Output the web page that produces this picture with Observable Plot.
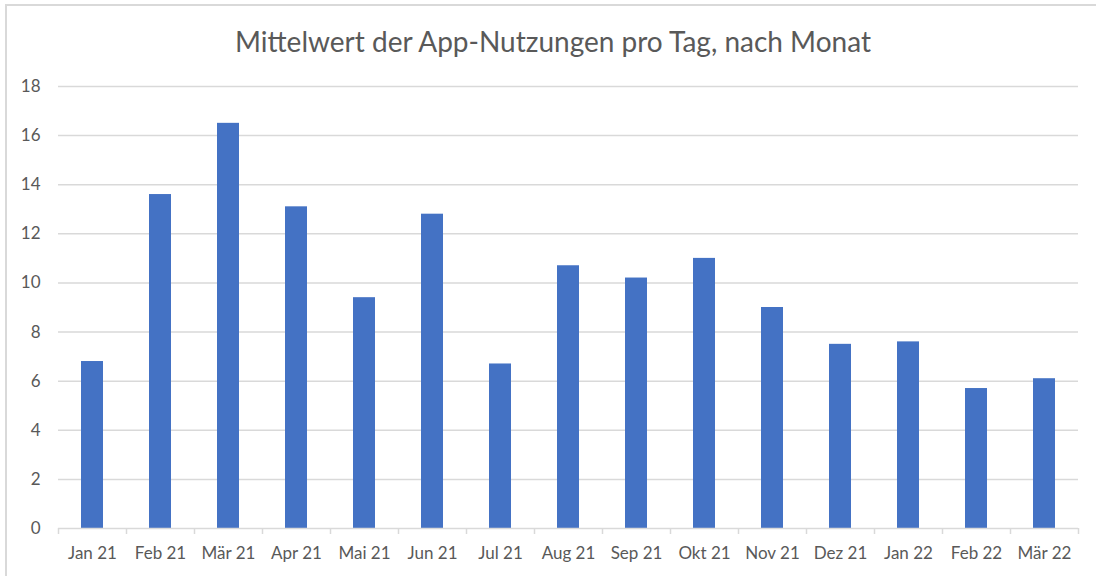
<!DOCTYPE html>
<html>
<head>
<meta charset="utf-8">
<script src="https://cdn.jsdelivr.net/npm/d3@7"></script>
<script src="https://cdn.jsdelivr.net/npm/@observablehq/plot@0.6"></script>
<style>
  html, body { margin: 0; padding: 0; background: #fff; }
  #wrap { position: relative; width: 1096px; height: 576px; overflow: hidden; font-family: Lato, "Open Sans", sans-serif; }
  #frame { position: absolute; left: 5px; top: 4px; width: 1200px; height: 700px; border-top: 2px solid #d9d9d9; border-left: 2px solid #d9d9d9; pointer-events: none; }
  #title { position: absolute; left: 0; top: 0; width: 1106px; height: 70px; line-height: 83px; text-align: center; font-size: 28px; color: #595959; }
  #chart { position: absolute; left: 0; top: 70px; }
</style>
</head>
<body>
<div id="wrap">
  <div id="frame"></div>
  <div id="title">Mittelwert der App-Nutzungen pro Tag, nach Monat</div>
  <div id="chart"></div>
</div>
<script>
const months = ["Jan 21","Feb 21","Mär 21","Apr 21","Mai 21","Jun 21","Jul 21","Aug 21","Sep 21","Okt 21","Nov 21","Dez 21","Jan 22","Feb 22","Mär 22"];
const values = [6.8, 13.6, 16.5, 13.1, 9.4, 12.8, 6.7, 10.7, 10.2, 11.0, 9.0, 7.5, 7.6, 5.7, 6.1];
const yTicks = [0, 2, 4, 6, 8, 10, 12, 14, 16, 18];

const data = months.map((m, i) => ({month: m, value: values[i]}));
const lastMonth = months[months.length - 1];

const plot = Plot.plot({
  width: 1096,
  height: 506,
  marginTop: 16,
  marginBottom: 48,
  marginLeft: 58,
  marginRight: 18,
  style: {fontFamily: "Lato, 'Open Sans', sans-serif", fontSize: "17px", color: "#595959", background: "transparent"},
  x: {domain: months, paddingInner: 0.68, paddingOuter: 0.34, label: null},
  y: {domain: [0, 18], ticks: yTicks, label: null},
  marks: [
    Plot.ruleY(yTicks.filter(t => t > 0), {stroke: "#d9d9d9", strokeWidth: 1.5}),
    Plot.barY(data, {x: "month", y: "value", fill: "#4472C4"}),
    Plot.ruleY([0], {stroke: "#d9d9d9", strokeWidth: 1.5}),
    Plot.ruleX(months, {x: d => d, dx: -34, y1: 0, y2: 0, insetBottom: -6, stroke: "#d9d9d9", strokeWidth: 1.5}),
    Plot.ruleX([lastMonth], {x: d => d, dx: 34, y1: 0, y2: 0, insetBottom: -6, stroke: "#d9d9d9", strokeWidth: 1.5}),
    Plot.axisY({ticks: yTicks, tickSize: 0, tickPadding: 18, fill: "#595959", fontSize: 17, label: null}),
    Plot.axisX({tickSize: 0, tickPadding: 18, fill: "#595959", fontSize: 17, label: null})
  ]
});
document.getElementById("chart").appendChild(plot);
</script>
</body>
</html>
